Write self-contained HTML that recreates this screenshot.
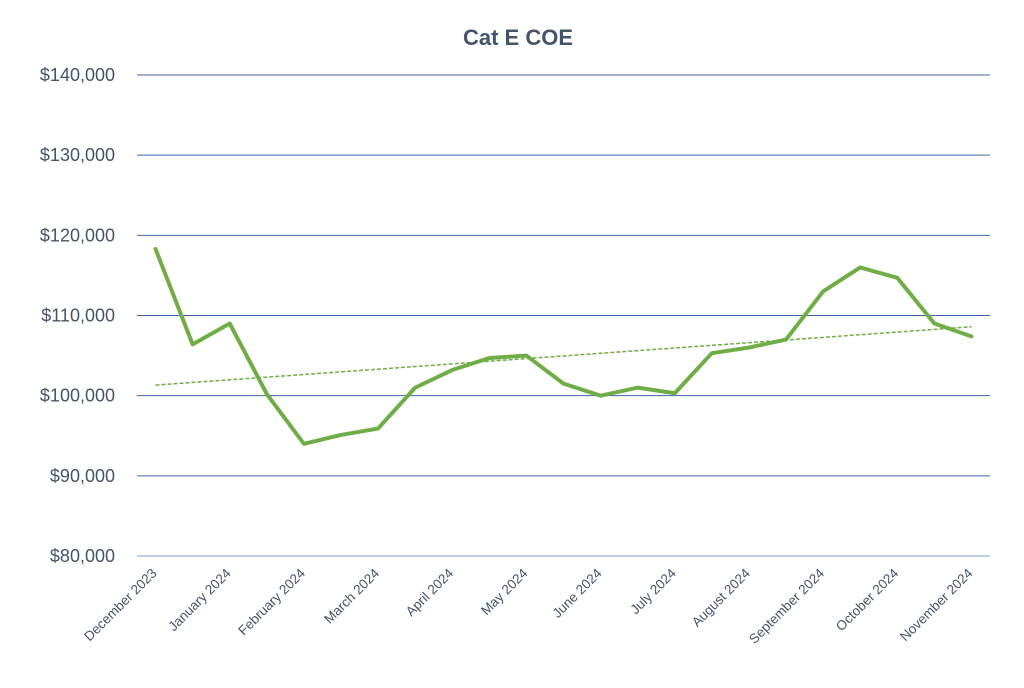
<!DOCTYPE html>
<html><head><meta charset="utf-8"><style>
body{margin:0;background:#fff;width:1024px;height:683px;overflow:hidden;font-family:"Liberation Sans",Calibri,sans-serif}
</style></head><body>
<svg id="chart" width="1024" height="683" xmlns="http://www.w3.org/2000/svg">
<text x="518" y="45" text-anchor="middle" font-size="22" font-weight="bold" fill="#44546a" font-family="Liberation Sans, sans-serif">Cat E COE</text>
<g id="grid"></g><g id="ylab"></g><g id="xlab"></g><g id="series"></g>
</svg>
<script>
const categories=["December 2023","","January 2024","","February 2024","","March 2024","","April 2024","","May 2024","","June 2024","","July 2024","","August 2024","","September 2024","","October 2024","","November 2024"];
const values=[118300,106400,109000,100200,94000,95100,95900,101000,103200,104700,105000,101500,100000,101000,100300,105300,106000,107000,113000,116000,114700,109000,107400];
const yTicks=[80000,90000,100000,110000,120000,130000,140000];
const NS="http://www.w3.org/2000/svg";
const L=137,R=990,T=75,B=556,ymin=80000,ymax=140000;
const band=(R-L)/values.length;
const xs=i=>L+band*(i+0.5);
const ys=v=>B-(v-ymin)/(ymax-ymin)*(B-T);
function mk(tag,attrs,parent){const e=document.createElementNS(NS,tag);for(const k in attrs)e.setAttribute(k,attrs[k]);document.getElementById(parent).appendChild(e);return e;}
yTicks.forEach(v=>{
 const g=mk('line',{x1:L,x2:R,y1:ys(v),y2:ys(v),stroke:v===ymin?'#7f9fd6':'#3f64a8','stroke-width':1},'grid');
 
 
 const t=mk('text',{x:L-22,y:ys(v)+6,'text-anchor':'end','font-size':18,fill:'#44546a'},'ylab');
 
 
 t.textContent='$'+v.toLocaleString('en-US');
});
categories.forEach((c,i)=>{
 if(!c)return;
 const x=xs(i)+2,y=B+18;
 const t=mk('text',{x:x,y:y,'text-anchor':'end','font-size':13.5,fill:'#44546a',transform:`rotate(-45 ${x} ${y})`},'xlab');
 
 
 t.textContent=c;
});
const n=values.length;let sx=0,sy=0,sxy=0,sxx=0;
values.forEach((v,i)=>{sx+=i;sy+=v;sxy+=i*v;sxx+=i*i;});
const m=(n*sxy-sx*sy)/(n*sxx-sx*sx),b0=(sy-m*sx)/n;
const tl=mk('line',{x1:xs(0),y1:ys(b0),x2:xs(n-1),y2:ys(b0+m*(n-1)),stroke:'#70ad47','stroke-width':1.5,'stroke-dasharray':'4 2'},'series');


const p=mk('polyline',{points:values.map((v,i)=>xs(i)+','+ys(v)).join(' '),fill:'none',stroke:'#70ad47','stroke-width':4,'stroke-linejoin':'round','stroke-linecap':'round'},'series');


</script>
</body></html>
